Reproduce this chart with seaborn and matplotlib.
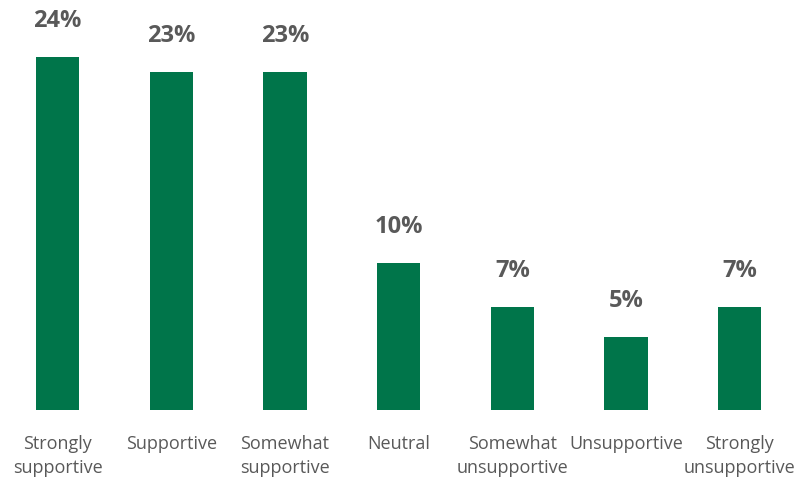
import matplotlib
matplotlib.use("Agg")
import matplotlib.pyplot as plt
import seaborn as sns
import pandas as pd

categories = ["Strongly\nsupportive", "Supportive", "Somewhat\nsupportive", "Neutral",
              "Somewhat\nunsupportive", "Unsupportive", "Strongly\nunsupportive"]
values = [24, 23, 23, 10, 7, 5, 7]
labels = ["24%", "23%", "23%", "10%", "7%", "5%", "7%"]

BAR = "#00754A"
TEXT = "#595959"

sns.set_theme(style="white")
plt.rcParams["font.family"] = ["Open Sans", "DejaVu Sans"]

df = pd.DataFrame({"category": categories, "value": values})

fig = plt.figure(figsize=(7.99, 4.82), dpi=100)
ax = fig.add_axes([0.001, 0.149, 0.996, 0.851])

sns.barplot(data=df, x="category", y="value", color=BAR, width=0.38,
            saturation=1, linewidth=0, ax=ax)

ax.set_xlim(-0.5, len(categories) - 0.5)
ax.set_ylim(0, 27.9)

for i, (v, lab) in enumerate(zip(values, labels)):
    ax.annotate(lab, (i, v), xytext=(0, 26), textcoords="offset points",
                ha="center", va="center", fontsize=17, fontweight="bold",
                color=TEXT)

ax.set_xlabel("")
ax.set_ylabel("")
ax.set_yticks([])
ax.tick_params(axis="x", length=0, pad=18, labelsize=13, colors=TEXT)
for t in ax.get_xticklabels():
    t.set_linespacing(1.42)
    t.set_verticalalignment("top")
for s in ax.spines.values():
    s.set_visible(False)

fig.savefig("out.png", dpi=100)
